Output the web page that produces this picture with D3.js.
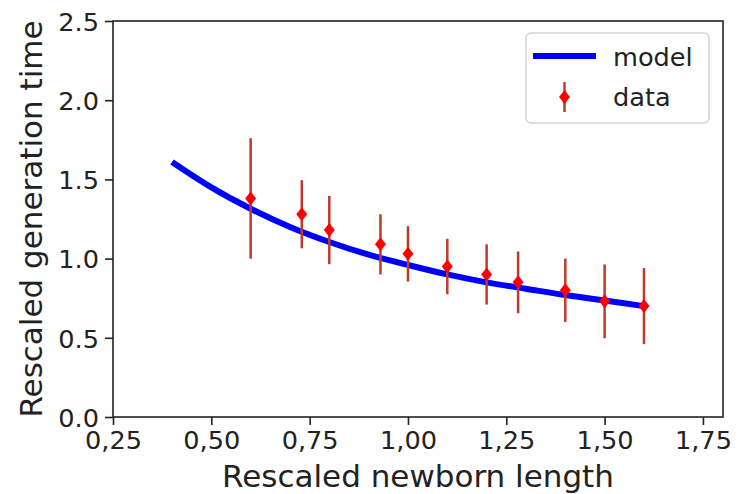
<!DOCTYPE html>
<html>
<head>
<meta charset="utf-8">
<script src="https://cdn.jsdelivr.net/npm/d3@7"></script>
<style>
body { margin: 0; background: #fff; }
text { font-family: "DejaVu Sans", sans-serif; fill: #222; }
</style>
</head>
<body>
<svg id="chart" width="737" height="494"></svg>
<script>
// data
var modelX = [0.4, 0.5, 0.6, 0.7, 0.8, 0.9, 1.0, 1.1, 1.2, 1.3, 1.4, 1.5, 1.6];
var modelY = [1.61, 1.45, 1.315, 1.20, 1.105, 1.025, 0.96, 0.90, 0.85, 0.81, 0.77, 0.735, 0.70];

var dataX = [0.6, 0.73, 0.8, 0.93, 1.0, 1.1, 1.2, 1.28, 1.4, 1.5, 1.6];
var dataY = [1.38, 1.28, 1.18, 1.09, 1.03, 0.95, 0.90, 0.85, 0.80, 0.73, 0.70];
var dataErr = [0.38, 0.215, 0.215, 0.19, 0.175, 0.175, 0.19, 0.195, 0.2, 0.233, 0.24];

var xTicks = [0.25, 0.5, 0.75, 1.0, 1.25, 1.5, 1.75];
var xTickLabels = ['0,25', '0,50', '0,75', '1,00', '1,25', '1,50', '1,75'];
var yTicks = [0, 0.5, 1.0, 1.5, 2.0, 2.5];
var yTickLabels = ['0.0', '0.5', '1.0', '1.5', '2.0', '2.5'];

// layout (plot box in px)
var pLeft = 113, pRight = 723, pTop = 21, pBottom = 417;
var svg = d3.select('#chart');

var x = d3.scaleLinear().domain([0.25, 1.801]).range([pLeft, pRight]);
var y = d3.scaleLinear().domain([0, 2.5]).range([pBottom, pTop]);

// axes
var xAxis = d3.axisBottom(x).tickValues(xTicks)
    .tickFormat(function(d, i){ return xTickLabels[i]; })
    .tickSize(8).tickPadding(6);
var yAxis = d3.axisLeft(y).tickValues(yTicks)
    .tickFormat(function(d, i){ return yTickLabels[i]; })
    .tickSize(8).tickPadding(6);

var gx = svg.append('g').attr('transform', 'translate(0,' + pBottom + ')').call(xAxis);
var gy = svg.append('g').attr('transform', 'translate(' + pLeft + ',0)').call(yAxis);
[gx, gy].forEach(function(g){
    g.select('.domain').remove();
    g.selectAll('.tick line').attr('stroke', '#222').attr('stroke-width', 1.6);
    g.selectAll('.tick text').style('font-size', '25.6px').attr('fill', '#222');
});
gy.selectAll('.tick text').attr('dy', '0.36em');

// frame
svg.append('rect')
    .attr('x', pLeft).attr('y', pTop)
    .attr('width', pRight - pLeft).attr('height', pBottom - pTop)
    .attr('fill', 'none').attr('stroke', '#222').attr('stroke-width', 1.6);

// labels
svg.append('text')
    .attr('x', (pLeft + pRight) / 2).attr('y', 487)
    .attr('text-anchor', 'middle')
    .style('font-size', '31px')
    .text('Rescaled newborn length');
svg.append('text')
    .attr('transform', 'translate(42,' + ((pTop + pBottom) / 2) + ') rotate(-90)')
    .attr('text-anchor', 'middle')
    .style('font-size', '31px')
    .text('Rescaled generation time');

// model line
var line = d3.line()
    .x(function(d){ return x(d[0]); })
    .y(function(d){ return y(d[1]); })
    .curve(d3.curveCatmullRom);
svg.append('path')
    .datum(d3.zip(modelX, modelY))
    .attr('d', line)
    .attr('fill', 'none')
    .attr('stroke', '#0000ff')
    .attr('stroke-width', 6);

// data with error bars
var pts = dataX.map(function(d, i){ return { x: d, y: dataY[i], e: dataErr[i] }; });
svg.append('g').selectAll('line').data(pts).enter().append('line')
    .attr('x1', function(d){ return x(d.x); })
    .attr('x2', function(d){ return x(d.x); })
    .attr('y1', function(d){ return y(d.y - d.e); })
    .attr('y2', function(d){ return y(d.y + d.e); })
    .attr('stroke', '#c0392b')
    .attr('stroke-width', 2.5);

function diamond(cx, cy){
    return 'M' + cx + ',' + (cy - 7) + 'L' + (cx + 5.5) + ',' + cy +
        'L' + cx + ',' + (cy + 7) + 'L' + (cx - 5.5) + ',' + cy + 'Z';
}
svg.append('g').selectAll('path').data(pts).enter().append('path')
    .attr('d', function(d){ return diamond(x(d.x), y(d.y)); })
    .attr('fill', '#ff0000');

// legend
var lg = svg.append('g');
lg.append('rect')
    .attr('x', 526).attr('y', 33).attr('width', 183).attr('height', 90)
    .attr('rx', 5).attr('fill', '#fff').attr('fill-opacity', 0.8)
    .attr('stroke', '#d5d5d5').attr('stroke-width', 1.5);
lg.append('line')
    .attr('x1', 533).attr('x2', 596).attr('y1', 56).attr('y2', 56)
    .attr('stroke', '#0000ff').attr('stroke-width', 6);
lg.append('line')
    .attr('x1', 564.5).attr('x2', 564.5).attr('y1', 82).attr('y2', 112)
    .attr('stroke', '#c0392b').attr('stroke-width', 2.5);
lg.append('path').attr('d', diamond(564.5, 97)).attr('fill', '#ff0000');
lg.append('text').attr('x', 613).attr('y', 66).style('font-size', '25.6px').text('model');
lg.append('text').attr('x', 613).attr('y', 106).style('font-size', '25.6px').text('data');
</script>
</body>
</html>
